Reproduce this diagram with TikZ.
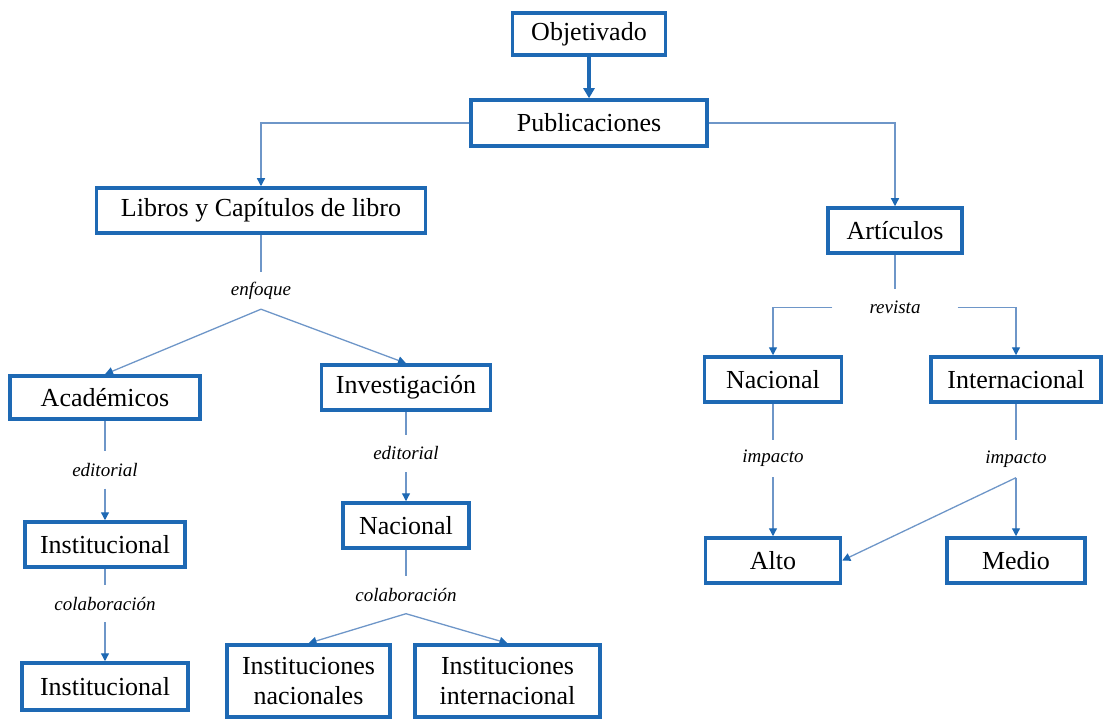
\documentclass[tikz,border=0pt]{standalone}
\usepackage{fontspec}
\setmainfont{Liberation Serif}
\usetikzlibrary{arrows.meta}
\definecolor{boxblue}{RGB}{30,105,180}
\definecolor{linkblue}{RGB}{110,150,200}
\tikzset{
  box/.style={draw=boxblue, line width=3.5pt, fill=white, inner sep=0pt,
    align=center, font=\fontsize{26}{30}\selectfont},
  tag/.style={inner sep=0pt, minimum height=37pt,
    font=\fontsize{19}{22}\selectfont\itshape},
  link/.style={draw=linkblue, line width=1.3pt},
  arr/.style={link, -{Triangle[length=8pt,width=8pt,color=boxblue]}},
  bigarr/.style={draw=boxblue, line width=3.5pt, -{Triangle[length=10pt,width=11pt]}}
}
\begin{document}
\begin{tikzpicture}[x=1pt,y=-1pt]
\useasboundingbox (0,0) rectangle (1103,719);

% boxes
\node[box, minimum width=153pt, minimum height=42pt] (obj) at (589,34) {Objetivado};
\node[box, minimum width=236pt, minimum height=46pt] (pub) at (589,123) {Publicaciones};
\node[box, minimum width=329pt, minimum height=45pt] (lib) at (261,210.5) {Libros y Capítulos de libro};
\node[box, minimum width=134pt, minimum height=45pt] (art) at (895,230.5) {Artículos};
\node[box, minimum width=190pt, minimum height=43pt] (acad) at (105,397.5) {Académicos};
\node[box, minimum width=169pt, minimum height=45pt] (inv) at (406,387.5) {Investigación};
\node[box, minimum width=160pt, minimum height=45pt] (inst1) at (105,544.5) {Institucional};
\node[box, minimum width=166pt, minimum height=47pt] (inst2) at (105,686.5) {Institucional};
\node[box, minimum width=126pt, minimum height=45pt] (nac1) at (406,525.5) {Nacional};
\node[box, minimum width=163pt, minimum height=72pt] (instnac) at (308.5,681) {Instituciones\\nacionales};
\node[box, minimum width=185pt, minimum height=72pt] (instint) at (507.5,681) {Instituciones\\internacional};
\node[box, minimum width=137pt, minimum height=45pt] (nac2) at (773,379.5) {Nacional};
\node[box, minimum width=170pt, minimum height=45pt] (intl) at (1016,379.5) {Internacional};
\node[box, minimum width=135pt, minimum height=45pt] (alto) at (773,560.5) {Alto};
\node[box, minimum width=138pt, minimum height=45pt] (medio) at (1016,560.5) {Medio};

% relation labels
\node[tag] (enf) at (261,290.5) {enfoque};
\node[tag] (ed1) at (105,470) {editorial};
\node[tag] (col1) at (105,603.5) {colaboración};
\node[tag] (ed2) at (406,453.5) {editorial};
\node[tag] (col2) at (406,595) {colaboración};
\node[tag, minimum width=125pt] (rev) at (895,307.5) {revista};
\node[tag] (imp1) at (773,458.5) {impacto};
\node[tag] (imp2) at (1016,459) {impacto};

% connectors
\draw[bigarr] (obj) -- (pub);
\draw[arr] (pub.west) -| (lib.north);
\draw[arr] (pub.east) -| (art.north);

\draw[link] (lib.south) -- (enf.north);
\draw[arr] (enf.south) -- (acad.north);
\draw[arr] (enf.south) -- (inv.north);

\draw[link] (acad.south) -- (ed1.north);
\draw[arr] (ed1.south) -- (inst1.north);
\draw[link] (inst1.south) -- (col1.north);
\draw[arr] (col1.south) -- (inst2.north);

\draw[link] (inv.south) -- (ed2.north);
\draw[arr] (ed2.south) -- (nac1.north);
\draw[link] (nac1.south) -- (col2.north);
\draw[arr] (col2.south) -- (instnac.north);
\draw[arr] (col2.south) -- (instint.north);

\draw[link] (art.south) -- (rev.north);
\draw[arr] (rev.west) -| (nac2.north);
\draw[arr] (rev.east) -| (intl.north);

\draw[link] (nac2.south) -- (imp1.north);
\draw[arr] (imp1.south) -- (alto.north);
\draw[link] (intl.south) -- (imp2.north);
\draw[arr] (imp2.south) -- (medio.north);
\draw[arr] (imp2.south) -- (alto.east);
\end{tikzpicture}
\end{document}
